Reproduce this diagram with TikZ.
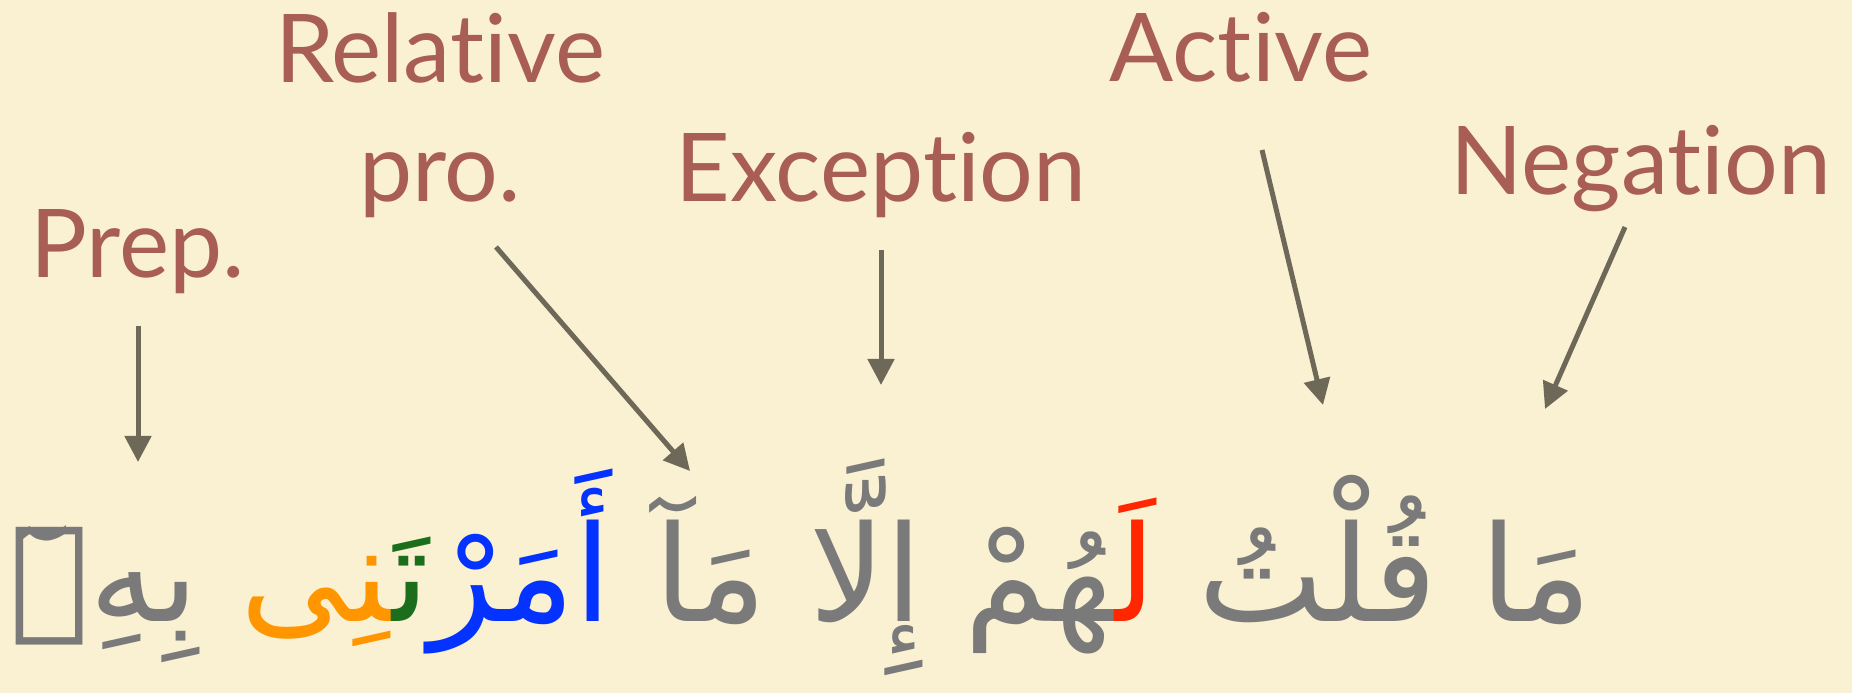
\documentclass[tikz,border=0pt]{standalone}
\usepackage{fontspec}
\setmainfont{Lato}[Ligatures=NoCommon]
\newfontfamily\arabicfont[Script=Arabic]{DejaVu Sans}
\TeXXeTstate=1
\usetikzlibrary{arrows.meta}

\definecolor{paper}{RGB}{250,241,211}
\definecolor{labelred}{RGB}{168,94,84}
\definecolor{arrowgray}{RGB}{110,104,88}
\definecolor{textgray}{RGB}{122,122,122}
\definecolor{lamred}{RGB}{255,38,0}
\definecolor{amrblue}{RGB}{4,51,255}
\definecolor{tagreen}{RGB}{28,110,28}
\definecolor{niorange}{RGB}{255,150,0}

\tikzset{
  tag/.style={text=labelred, font=\fontsize{27}{34}\selectfont, anchor=base, inner sep=0pt},
  pointer/.style={draw=arrowgray, line width=0.5mm, -{Triangle[width=2.6mm,length=2.6mm]}}
}

\begin{document}
\begin{tikzpicture}[x=0.1mm,y=-0.1mm]
% Background
\fill[paper] (0,0) rectangle (1852,693);
\useasboundingbox (0,0) rectangle (1852,693);
% Labels
\node[tag] (prep) at (138,278) {Prep.};
\node[tag, align=center] (relpro) at (440,202) {Relative\\pro.};
\node[tag] (excep) at (881,202) {Exception};
\node[tag] (active) at (1241,82) {Active};
\node[tag] (negation) at (1641,195) {Negation};
% Sentence
\node[text=textgray, font=\arabicfont\fontsize{38}{44}\selectfont, anchor=base, inner sep=0pt] (ayah) at (801,622)
  {\beginR مَا قُلْتُ \beginL\textcolor{lamred}{لَ^^^^200d}\endL^^^^200dهُمْ إِلَّا مَآ \beginL\textcolor{amrblue}{أَمَرْ}\endL\beginL\textcolor{tagreen}{تَ^^^^200d}\endL\beginL\textcolor{niorange}{^^^^200dنِى}\endL{} بِهِۦٓ\endR};
% Arrow ends
\coordinate (prep-tail) at (138,326);
\coordinate (prep-head) at (138,462);
\coordinate (relpro-tail) at (496,247);
\coordinate (relpro-head) at (690,471);
\coordinate (excep-tail) at (881,250);
\coordinate (excep-head) at (881,385);
\coordinate (active-tail) at (1262,150);
\coordinate (active-head) at (1323,405);
\coordinate (negation-tail) at (1625,227);
\coordinate (negation-head) at (1545,409);
% Arrows
\draw[pointer] (prep-tail) -- (prep-head);
\draw[pointer] (relpro-tail) -- (relpro-head);
\draw[pointer] (excep-tail) -- (excep-head);
\draw[pointer] (active-tail) -- (active-head);
\draw[pointer] (negation-tail) -- (negation-head);
\end{tikzpicture}
\end{document}
